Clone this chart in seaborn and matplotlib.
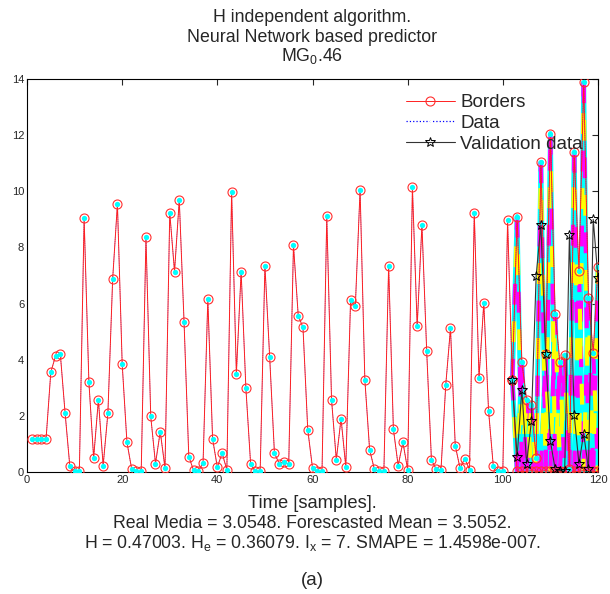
import numpy as np
import matplotlib
matplotlib.use("Agg")
import matplotlib.pyplot as plt
import seaborn as sns

sns.set_style("white")
plt.rcParams['font.family'] = ['Liberation Sans', 'DejaVu Sans']
plt.rcParams['mathtext.fontset'] = 'custom'
plt.rcParams['mathtext.rm'] = 'Liberation Sans'
plt.rcParams['mathtext.it'] = 'Liberation Sans'

# samples 1..120, upper border (red circles)
borders = [1.17, 1.17, 1.17, 1.17, 3.56, 4.13, 4.2, 2.1, 0.2, 0.02,
           0.02, 9.04, 3.22, 0.5, 2.57, 0.23, 2.1, 6.88, 9.55, 3.85,
           1.06, 0.1, 0.02, 0.02, 8.36, 1.98, 0.3, 1.44, 0.14, 9.23,
           7.14, 9.69, 5.36, 0.55, 0.06, 0.02, 0.33, 6.16, 1.18, 0.17,
           0.67, 0.08, 9.98, 3.5, 7.14, 2.98, 0.27, 0.02, 0.02, 7.35,
           4.09, 0.67, 0.3, 0.37, 0.27, 8.08, 5.57, 5.15, 1.51, 0.14,
           0.02, 0.02, 9.11, 2.58, 0.44, 1.9, 0.18, 6.12, 5.9, 10.06,
           3.29, 0.8, 0.1, 0.02, 0.02, 7.35, 1.53, 0.23, 1.06, 0.08,
           10.14, 5.19, 8.81, 4.3, 0.42, 0.1, 0.06, 3.09, 5.12, 0.94,
           0.14, 0.48, 0.08, 9.23, 3.35, 6.02, 2.19, 0.2, 0.02, 0.02,
           8.97, 3.29, 9.09, 3.91, 2.58, 2.4, 0.5, 11.03, 4.2, 12.05,
           5.63, 3.91, 4.16, 0.1, 11.4, 7.15, 13.88, 6.2, 4.24, 7.3]
samples = list(range(1, 121))

# lower border in the forecast window (samples 102..120)
lower_x = list(range(102, 121))
lower = [3.29, 0.02, 0.02, 0.02, 0.05, 0.02, 0.02, 0.05, 0.02, 0.02,
         0.02, 0.02, 0.05, 0.02, 0.02, 0.05, 0.05, 0.02, 0.02]

# validation data (black stars)
valid_x = list(range(102, 121))
valid = [3.29, 0.53, 2.93, 0.3, 1.8, 6.98, 8.8, 4.2, 1.1, 0.1,
         0.05, 0.02, 8.46, 2.03, 0.3, 1.37, 0.1, 9.0, 6.9]

data = borders

fig = plt.figure(figsize=(6.10, 5.94), dpi=100)
ax = fig.add_axes([0.0443, 0.2054, 0.9360, 0.6616])

# forecast band: many overlapping trajectories in cyan / magenta / yellow
up_fc = borders[101:]
for col, style, lw in [('cyan', '-', 3.5), ('magenta', (0, (5, 13)), 3), ('yellow', (9, (5, 13)), 3)]:
    for i in range(len(lower_x) - 1):
        ax.plot([lower_x[i], lower_x[i + 1]], [up_fc[i], lower[i + 1]], color=col, lw=lw,
                ls=style, zorder=1.4)
        ax.plot([lower_x[i], lower_x[i + 1]], [lower[i], up_fc[i + 1]], color=col, lw=lw,
                ls=style, zorder=1.4)
ax.fill_between(lower_x, lower, [min(u, 2.0) for u in up_fc], color='cyan', lw=0, zorder=1)

sns.lineplot(x=samples, y=data, ax=ax, color='cyan', lw=0, marker='o', markersize=3.8,
             markeredgewidth=0, zorder=4)
sns.lineplot(x=samples, y=data, ax=ax, color='blue', lw=0.5, ls=':', marker='x', markersize=2.5,
             markeredgewidth=0.6, label='Data', zorder=2.5)
sns.lineplot(x=samples, y=borders, ax=ax, color='#ff2020', lw=0.7, marker='o', markersize=6.5,
             markerfacecolor='none', markeredgecolor='#ff3030', markeredgewidth=0.8,
             label='Borders', zorder=3)
sns.lineplot(x=lower_x, y=lower, ax=ax, color='#ff2020', lw=0.7, marker='o', markersize=6.5,
             markerfacecolor='none', markeredgecolor='#ff3030', markeredgewidth=0.8, zorder=3)
sns.lineplot(x=valid_x, y=valid, ax=ax, color='#333333', lw=0.8, marker='*', markersize=7,
             markerfacecolor='none', markeredgecolor='black', markeredgewidth=0.7,
             label='Validation data', zorder=5)

ax.set_xlim(0, 120)
ax.set_ylim(0, 14)
ax.set_xticks(range(0, 121, 20))
ax.set_yticks(range(0, 15, 2))
ax.tick_params(direction='in', length=4, labelsize=8, top=True, right=True, pad=2)
for s in ax.spines.values():
    s.set_color('black')
    s.set_linewidth(0.8)
ax.set_xlabel('')
ax.set_ylabel('')

handles, labels = ax.get_legend_handles_labels()
order = [labels.index(n) for n in ['Borders', 'Data', 'Validation data']]
leg = ax.legend([handles[i] for i in order], [labels[i] for i in order],
                loc='upper right', bbox_to_anchor=(1.0, 1.0), frameon=False, fontsize=13.5,
                handlelength=2.6, handletextpad=0.3, labelspacing=0.2, borderaxespad=0.4)
leg.legend_handles[1].set_markersize(4)
leg.legend_handles[1].set_linewidth(0.9)

# title
fig.text(0.512, 0.963, 'H independent algorithm.', ha='center', va='baseline', fontsize=12.8)
fig.text(0.512, 0.930, 'Neural Network based predictor', ha='center', va='baseline', fontsize=12.8)
fig.text(0.512, 0.897, 'MG$_0$.46', ha='center', va='baseline', fontsize=12.8)

# labels under the axes
fig.text(0.512, 0.144, 'Time [samples].', ha='center', va='baseline', fontsize=13.2)
fig.text(0.512, 0.1115, 'Real Media = 3.0548. Forescasted Mean = 3.5052.', ha='center', va='baseline',
         fontsize=12.7)
fig.text(0.512, 0.0775, 'H = 0.47003. H$_e$ = 0.36079. I$_x$ = 7. SMAPE = 1.4598e-007.',
         ha='center', va='baseline', fontsize=12.7)
fig.text(0.512, 0.0152, '(a)', ha='center', va='baseline', fontsize=13.5)

fig.savefig('out.png', dpi=100)
